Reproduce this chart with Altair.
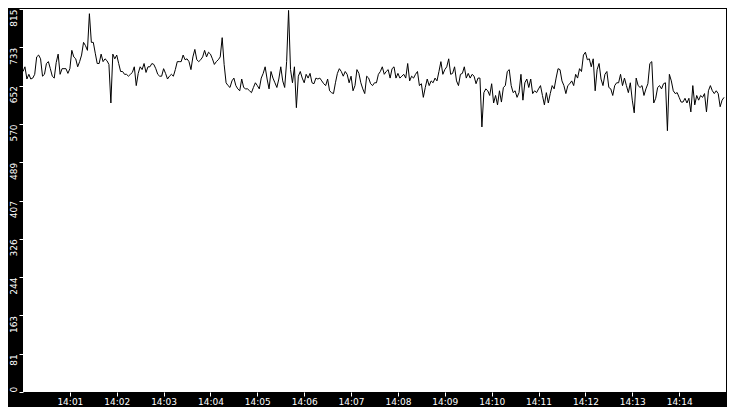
import altair as alt
import pandas as pd

# readings every 2.5 s from 14:00:00 in five slices
part_1 = [682, 692, 666, 676, 666, 668, 676, 713, 717, 709,
          672, 676, 699, 703, 688, 672, 668, 701, 719, 676,
          688, 688, 688, 678, 688, 727, 713, 709, 692, 703,
          717, 744, 737, 727, 805, 744, 744, 721, 699, 699,
          719, 703, 709, 705, 697, 615, 719, 709, 717, 699,
          682, 682, 676, 676, 672, 676, 680, 692, 652, 678,
          692, 686, 699, 680, 692, 692, 699, 697, 688, 676,
          672, 672]
part_2 = [688, 678, 666, 672, 676, 672, 686, 703, 703, 703,
          717, 707, 709, 703, 686, 713, 729, 707, 703, 707,
          713, 727, 713, 723, 719, 709, 697, 703, 707, 713,
          754, 697, 658, 652, 648, 662, 668, 652, 645, 641,
          666, 648, 645, 645, 641, 637, 648, 658, 652, 645,
          668, 678, 692, 666, 645, 682, 668, 658, 648, 666,
          692, 662, 648, 703, 812, 686, 658, 692, 605, 672,
          682, 668]
part_3 = [658, 676, 668, 678, 658, 656, 668, 666, 668, 662,
          656, 652, 666, 641, 637, 635, 658, 678, 688, 682,
          672, 682, 676, 658, 672, 641, 652, 686, 678, 658,
          645, 635, 672, 668, 656, 652, 658, 658, 676, 682,
          692, 676, 682, 686, 668, 688, 692, 668, 678, 668,
          672, 676, 668, 699, 662, 672, 668, 676, 682, 652,
          656, 627, 648, 666, 652, 662, 658, 668, 662, 682,
          703, 676]
part_4 = [686, 692, 709, 676, 678, 692, 662, 652, 676, 678,
          692, 668, 678, 668, 676, 672, 656, 668, 668, 564,
          637, 645, 641, 631, 656, 615, 631, 611, 641, 617,
          648, 652, 682, 686, 652, 637, 641, 627, 637, 676,
          621, 658, 666, 648, 666, 635, 641, 637, 645, 652,
          631, 611, 637, 615, 635, 652, 645, 668, 688, 686,
          662, 652, 635, 652, 656, 662, 652, 676, 668, 688,
          682, 717]
part_5 = [723, 707, 709, 692, 709, 641, 686, 699, 666, 652,
          676, 682, 648, 645, 631, 652, 658, 658, 676, 652,
          668, 652, 637, 658, 621, 594, 668, 652, 648, 652,
          631, 645, 656, 699, 703, 615, 625, 648, 652, 645,
          656, 658, 556, 676, 662, 641, 635, 637, 627, 617,
          617, 625, 615, 625, 596, 652, 611, 631, 621, 631,
          627, 635, 596, 641, 652, 641, 635, 641, 635, 607,
          621, 627]

y_ticks = [0, 81.5, 163, 244.5, 326, 407.5, 489, 570.5, 652, 733.5, 815]
tick_minutes = list(range(1, 15))

readings = part_1 + part_2 + part_3 + part_4 + part_5
times = pd.date_range("2024-01-01 14:00:00", periods=len(readings), freq="2500ms")
df = pd.DataFrame({"time": times, "value": readings})


def at(minute):
    return alt.DateTime(year=2024, month=1, date=1, hours=14, minutes=minute)


chart = alt.Chart(df).mark_line(color="black", strokeWidth=1).encode(
    alt.X("time:T",
          scale=alt.Scale(domain=[at(0), at(15)]),
          axis=alt.Axis(values=[at(m) for m in tick_minutes], format="%H:%M",
                        title=None, grid=False, domain=False,
                        tickColor="white", tickSize=4, labelColor="white",
                        labelFont="DejaVu Sans", labelFontSize=9,
                        labelPadding=1, minExtent=15, maxExtent=15)),
    alt.Y("value:Q",
          scale=alt.Scale(domain=[0, 815], nice=False, zero=True),
          axis=alt.Axis(values=y_ticks, labelExpr="floor(datum.value)",
                        title=None, grid=False, domain=False,
                        tickColor="white", tickSize=4, labelColor="white",
                        labelFont="DejaVu Sans", labelFontSize=9,
                        labelAngle=270,
                        labelAlign={"condition": {"test": "datum.value == 0", "value": "left"},
                                    "value": "right"},
                        labelBaseline="bottom", labelPadding=1,
                        minExtent=15, maxExtent=15))
).properties(
    width=719, height=399, padding=0,
    autosize=alt.AutoSizeParams(type="fit", contains="padding"),
    background="black"
).configure_view(strokeWidth=0, fill="white")

chart.save("out.html", embed_options={"renderer": "svg", "actions": False})
